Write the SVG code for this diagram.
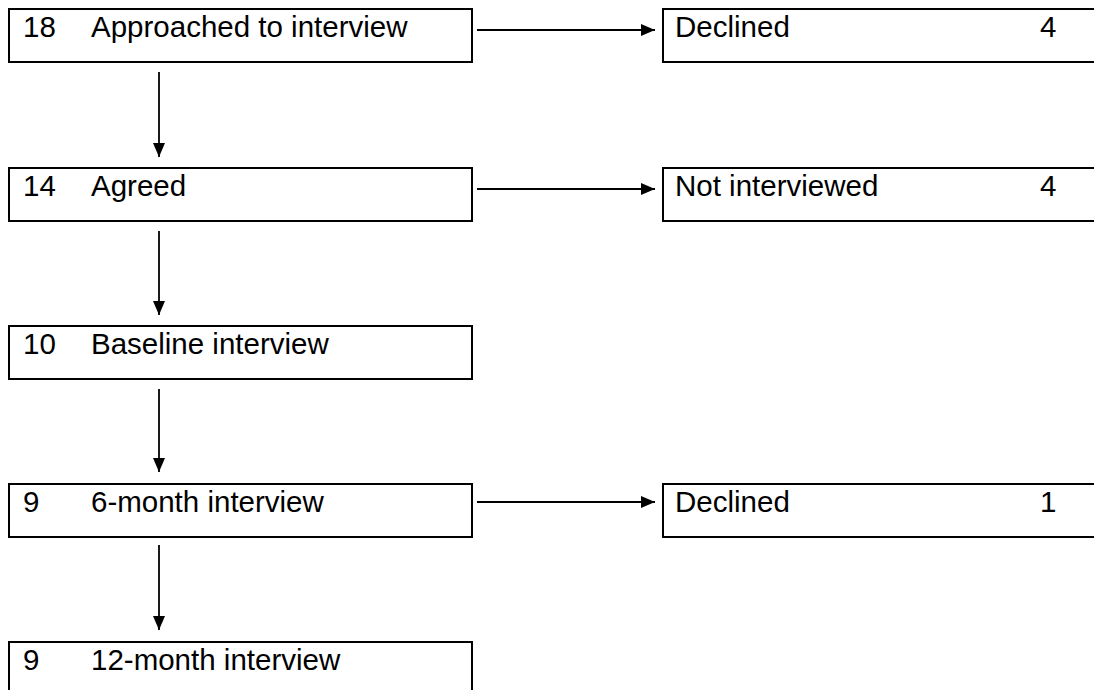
<svg xmlns="http://www.w3.org/2000/svg" width="1094" height="690" viewBox="0 0 1094 690">
  <style>
    .box { fill: #ffffff; stroke: #000000; stroke-width: 2; }
    .lbl { font-family: "Liberation Sans", Arial, sans-serif; font-size: 29.5px; fill: #000000; }
    .link { stroke: #000000; stroke-width: 1.8; fill: none; }
  </style>
  <defs>
    <marker id="arrow" viewBox="0 0 14 12" refX="14" refY="6" markerWidth="14" markerHeight="12" markerUnits="userSpaceOnUse" orient="auto">
      <path d="M0,0 L14,6 L0,12 Z" fill="#000000"/>
    </marker>
  </defs>
  <rect width="1094" height="690" fill="#ffffff"/>

  <!-- main sequence -->
  <g id="approached">
    <rect class="box" x="9" y="9" width="463" height="53"/>
    <text class="lbl" x="23" y="37">18</text>
    <text class="lbl" x="91" y="37">Approached to interview</text>
  </g>
  <g id="agreed">
    <rect class="box" x="9" y="168" width="463" height="53"/>
    <text class="lbl" x="23" y="196">14</text>
    <text class="lbl" x="91" y="196">Agreed</text>
  </g>
  <g id="baseline">
    <rect class="box" x="9" y="326" width="463" height="53"/>
    <text class="lbl" x="23" y="354">10</text>
    <text class="lbl" x="91" y="354">Baseline interview</text>
  </g>
  <g id="month6">
    <rect class="box" x="9" y="484" width="463" height="53"/>
    <text class="lbl" x="23" y="512">9</text>
    <text class="lbl" x="91" y="512">6-month interview</text>
  </g>
  <g id="month12">
    <rect class="box" x="9" y="642" width="463" height="53"/>
    <text class="lbl" x="23" y="670">9</text>
    <text class="lbl" x="91" y="670">12-month interview</text>
  </g>

  <!-- drop-outs -->
  <g id="declined1">
    <rect class="box" x="663" y="9" width="450" height="53"/>
    <text class="lbl" x="675" y="37">Declined</text>
    <text class="lbl" x="1040" y="37">4</text>
  </g>
  <g id="notinterviewed">
    <rect class="box" x="663" y="168" width="450" height="53"/>
    <text class="lbl" x="675" y="196">Not interviewed</text>
    <text class="lbl" x="1040" y="196">4</text>
  </g>
  <g id="declined2">
    <rect class="box" x="663" y="484" width="450" height="53"/>
    <text class="lbl" x="675" y="512">Declined</text>
    <text class="lbl" x="1040" y="512">1</text>
  </g>

  <!-- connectors -->
  <g id="connectors">
    <line class="link" x1="159" y1="72" x2="159" y2="157" marker-end="url(#arrow)"/>
    <line class="link" x1="159" y1="231" x2="159" y2="315" marker-end="url(#arrow)"/>
    <line class="link" x1="159" y1="389" x2="159" y2="472" marker-end="url(#arrow)"/>
    <line class="link" x1="159" y1="545" x2="159" y2="630" marker-end="url(#arrow)"/>
    <line class="link" x1="477" y1="30" x2="655" y2="30" marker-end="url(#arrow)"/>
    <line class="link" x1="477" y1="189" x2="655" y2="189" marker-end="url(#arrow)"/>
    <line class="link" x1="477" y1="502" x2="655" y2="502" marker-end="url(#arrow)"/>
  </g>
</svg>
